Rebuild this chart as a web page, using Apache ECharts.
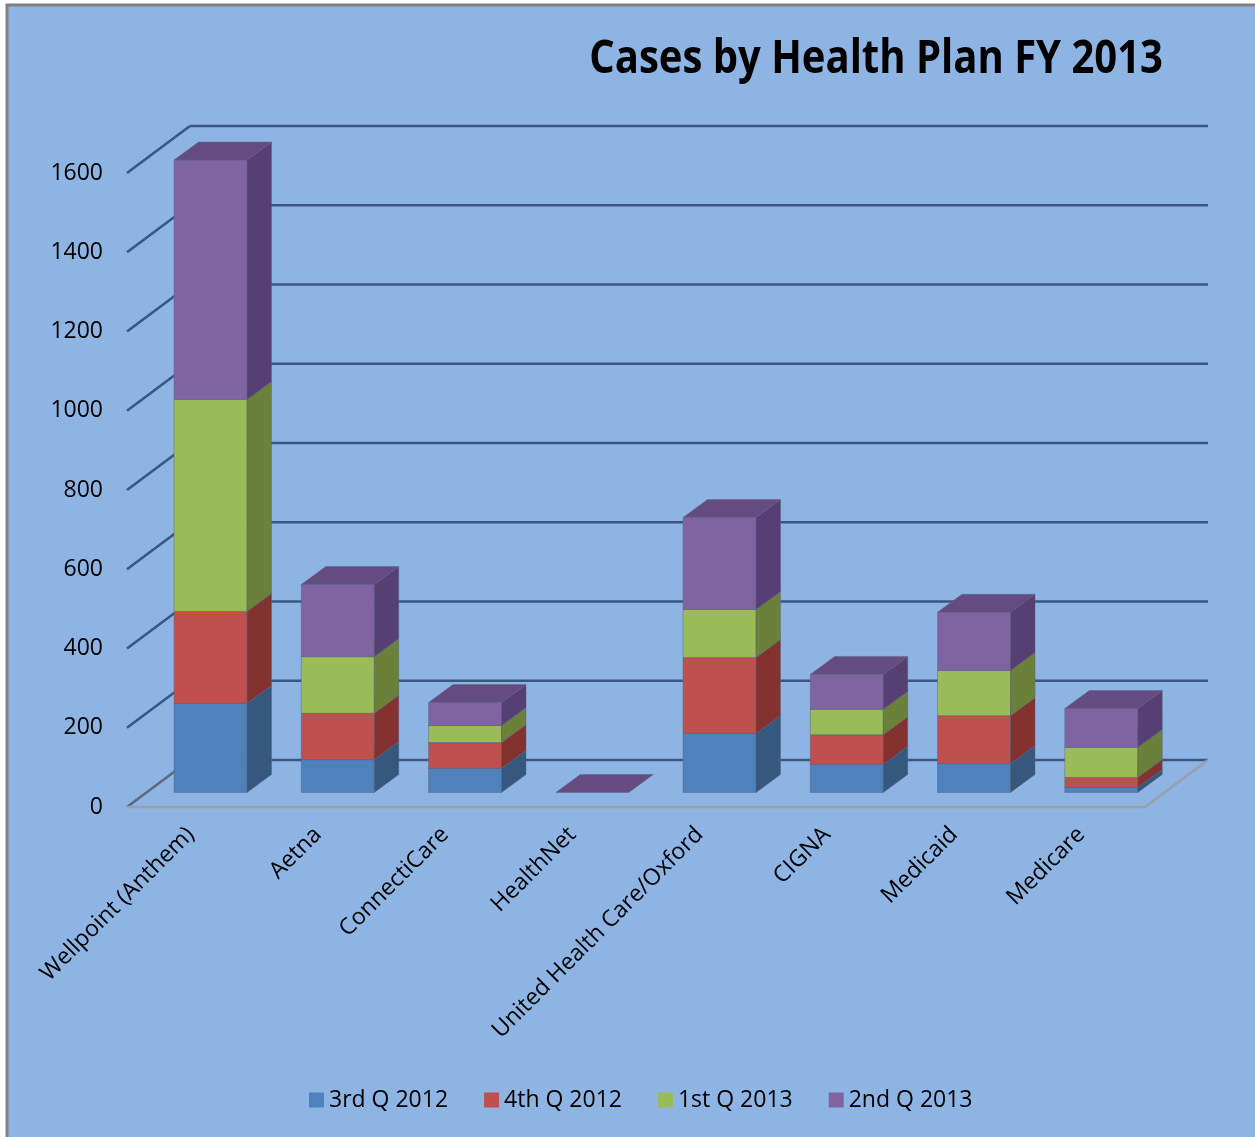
<!DOCTYPE html>
<html>
<head>
<meta charset="utf-8">
<script src="https://cdn.jsdelivr.net/npm/echarts@6/dist/echarts.min.js"></script>
<style>
html,body{margin:0;padding:0;background:#ffffff;}
#chart{width:1255px;height:1137px;}
</style>
</head>
<body>
<div id="chart"></div>
<script>
// ---- data ----
const categories = ['Wellpoint (Anthem)', 'Aetna', 'ConnectiCare', 'HealthNet', 'United Health Care/Oxford', 'CIGNA', 'Medicaid', 'Medicare'];
const seriesNames = ['3rd Q 2012', '4th Q 2012', '1st Q 2013', '2nd Q 2013'];
const q3_2012 = [225, 83, 61, 0, 149, 71, 73, 13];
const q4_2012 = [232, 117, 65, 0, 192, 75, 121, 25];
const q1_2013 = [535, 143, 43, 0, 121, 64, 114, 76];
const q2_2013 = [604, 182, 58, 0, 232, 88, 147, 98];
const yTicks = [0, 200, 400, 600, 800, 1000, 1200, 1400, 1600];
const titleText = 'Cases by Health Plan FY 2013';

// ---- styles ----
const frontColors = ['#4f81bd', '#c0504d', '#9bbb59', '#8064a2'];
const sideColors  = ['#36587f', '#84322f', '#6b813a', '#563f72'];
const topColors   = ['#3f6797', '#9a3d3a', '#7d9646', '#644c80'];
const DX = 63, DY = 47;          // floor depth offset
const FX = 19.9, FY = 14.5;      // bar front-face offset into depth
const BDX = 24.5, BDY = 18;      // bar depth
const BAR_W = 73;
const gridColor = '#3a5782';

const allSeries = [q3_2012, q4_2012, q1_2013, q2_2013];

function wallRender(params, api) {
  const bw = api.size([1, 0])[0];
  const xL = api.coord([0, 0])[0] - bw / 2;
  const xR = api.coord([categories.length - 1, 0])[0] + bw / 2;
  const children = [];
  yTicks.forEach(function (v) {
    const y = api.coord([0, v])[1];
    children.push({type: 'line', shape: {x1: xL + DX, y1: y - DY, x2: xR + DX, y2: y - DY},
      style: {stroke: gridColor, lineWidth: 2.6}});
    children.push({type: 'line', shape: {x1: xL, y1: y, x2: xL + DX, y2: y - DY},
      style: {stroke: v === 0 ? '#5a6a80' : gridColor, lineWidth: 2.6}});
  });
  const y0 = api.coord([0, 0])[1];
  children.push({type: 'polyline', shape: {points: [[xL, y0], [xR, y0], [xR + DX, y0 - DY]]},
    style: {stroke: '#9a9fa8', lineWidth: 2.6, fill: null}});
  return {type: 'group', children: children};
}

function makeBarRender(sIdx) {
  return function (params, api) {
    const i = api.value(0), base = api.value(1), v = api.value(2);
    const c = api.coord([i, 0])[0];
    const yb = api.coord([i, base])[1] - FY;
    const yt = api.coord([i, base + v])[1] - FY;
    const xL = c + FX - BAR_W / 2, xR = xL + BAR_W;
    const edge = {stroke: 'rgba(90,100,130,0.45)', lineWidth: 1};
    const children = [];
    if (v > 0) {
      children.push({type: 'rect', shape: {x: xL, y: yt, width: BAR_W, height: yb - yt},
        style: Object.assign({fill: frontColors[sIdx]}, edge)});
      children.push({type: 'polygon', shape: {points: [[xR, yt], [xR + BDX, yt - BDY], [xR + BDX, yb - BDY], [xR, yb]]},
        style: Object.assign({fill: sideColors[sIdx]}, edge)});
    }
    if (v > 0 || sIdx === allSeries.length - 1) {
      children.push({type: 'polygon', shape: {points: [[xL, yt], [xR, yt], [xR + BDX, yt - BDY], [xL + BDX, yt - BDY]]},
        style: Object.assign({fill: topColors[sIdx]}, edge)});
    }
    return {type: 'group', children: children};
  };
}

const barSeries = allSeries.map(function (arr, sIdx) {
  const data = arr.map(function (val, i) {
    let base = 0;
    for (let k = 0; k < sIdx; k++) base += allSeries[k][i];
    return [i, base, val];
  });
  return {
    type: 'custom', name: seriesNames[sIdx], data: data,
    itemStyle: {color: frontColors[sIdx]},
    encode: {x: 0, y: [1, 2]},
    renderItem: makeBarRender(sIdx), z: 10 + sIdx, silent: true
  };
});

const chart = echarts.init(document.getElementById('chart'), null, {renderer: 'canvas'});
chart.setOption({
  backgroundColor: '#ffffff',
  animation: false,
  graphic: [
    {type: 'rect', z: -10, shape: {x: 7, y: 5, width: 1270, height: 1150},
      style: {fill: '#8eb4e3', stroke: '#808080', lineWidth: 3}},
    {type: 'text', x: 1163, y: 37, scaleX: 0.87, z: 5,
      style: {text: titleText, font: 'bold 46px "Open Sans"', fill: '#000000', textAlign: 'right', textVerticalAlign: 'top'}}
  ],
  grid: {left: 127, right: 110, top: 173, bottom: 330, containLabel: false},
  legend: {
    data: seriesNames, top: 1081, left: 304, icon: 'rect',
    itemWidth: 15, itemHeight: 15, itemGap: 36, itemTextGap: 7,
    textStyle: {fontFamily: 'Open Sans', fontSize: 23, color: '#000', lineHeight: 28}
  },
  xAxis: {
    type: 'category', data: categories,
    axisLine: {show: false}, axisTick: {show: false}, splitLine: {show: false},
    axisLabel: {interval: 0, rotate: 45, margin: 24, fontFamily: 'Open Sans', fontSize: 23, color: '#000'}
  },
  yAxis: {
    type: 'value', min: 0, max: 1600, interval: 200,
    axisLine: {show: false}, axisTick: {show: false}, splitLine: {show: false},
    axisLabel: {margin: 24, fontFamily: 'Open Sans', fontSize: 23, color: '#000',
      formatter: function (v) { return String(v); }}
  },
  series: [
    {type: 'custom', data: [[0, 0]], renderItem: wallRender, z: 1, silent: true, encode: {x: 0, y: 1}}
  ].concat(barSeries)
});
</script>
</body>
</html>
